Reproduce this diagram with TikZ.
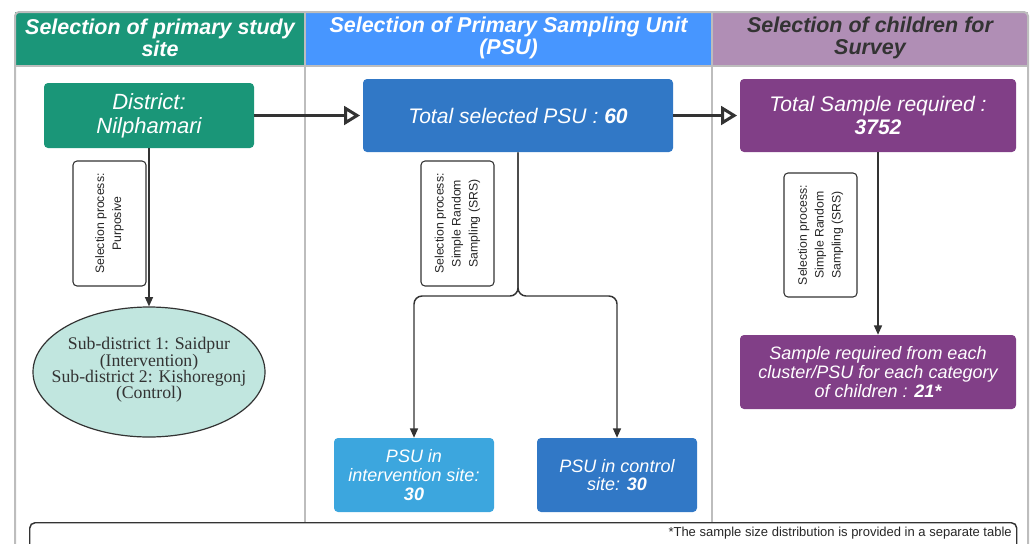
\documentclass[tikz,border=0pt]{standalone}
\usepackage{fontspec}
\setmainfont{Liberation Sans}
\newfontfamily\ellfont{Liberation Serif}
\usetikzlibrary{shapes.geometric,arrows.meta}
\definecolor{hgreen}{HTML}{1B9679}
\definecolor{hblue}{HTML}{4796FF}
\definecolor{hpurple}{HTML}{B08EB5}
\definecolor{boxteal}{HTML}{1A9678}
\definecolor{boxblue}{HTML}{3178C6}
\definecolor{boxlight}{HTML}{3CA6DE}
\definecolor{boxpurple}{HTML}{813F87}
\definecolor{ellfill}{HTML}{C1E6DF}
\definecolor{lanegray}{HTML}{BDBDBD}
\definecolor{ink}{HTML}{333333}
\newcommand\ellstyle{\ellfont\fontsize{13.3}{12.2}\selectfont\lineskiplimit-20pt\relax}
\tikzset{
  lane/.style={draw=lanegray, line width=1.5pt},
  htext/.style={align=center, font=\fontsize{16.1}{16.5}\selectfont\bfseries\itshape, text=white},
  bigbox/.style={rectangle, rounded corners=3pt, align=center, text=white, inner sep=2pt,
    font=\fontsize{15.8}{16.8}\selectfont\itshape},
  smallbox/.style={rectangle, rounded corners=3pt, align=center, text=white, inner sep=2pt,
    font=\fontsize{13.5}{14}\selectfont\itshape},
  labelbox/.style={rectangle, draw=ink, line width=0.8pt, rounded corners=3pt, fill=white,
    align=center, rotate=90, text=black!85, inner sep=1pt,
    font=\fontsize{9.2}{12.7}\selectfont},
  thick arrow/.style={draw=ink, line width=2.25pt, -{Triangle[open, length=12pt, width=14pt, line width=2.25pt]}},
  thin arrow/.style={draw=ink, line width=1.1pt, -{Triangle[length=7pt, width=6pt]}},
}
\begin{document}
\begin{tikzpicture}[x=0.75pt,y=-0.75pt]
\useasboundingbox (0,0) rectangle (1030,543);
\clip (0,0) rectangle (1030,543);
% header backgrounds
\fill[hgreen] (15,12) rectangle (305,66);
\fill[hblue] (305,12) rectangle (712,66);
\fill[hpurple] (712,12) rectangle (1028,66);
% swimlane lines
\draw[lane, rounded corners=3pt] (15,560) -- (15,12) -- (1028,12) -- (1028,560);
\draw[lane] (15,66) -- (1028,66);
\draw[lane] (305,12) -- (305,522);
\draw[lane] (712,12) -- (712,522);
% header texts
\node[htext] (h1) at (160,37.5) {Selection of primary study\\site};
\node[htext] (h2) at (508.5,37.5) {Selection of Primary Sampling Unit\\(PSU)};
\node[htext, text=ink] (h3) at (870,37.5) {Selection of children for\\Survey};
% main boxes
\node[bigbox, fill=boxteal, minimum width=210*0.75pt, minimum height=65*0.75pt,
  font=\fontsize{16.5}{18}\selectfont\itshape] (dist) at (149,115.5) {District:\\Nilphamari};
\node[bigbox, fill=boxblue, minimum width=310*0.75pt, minimum height=73*0.75pt] (psu) at (518,115.5) {Total selected PSU : \textbf{60}};
\node[bigbox, fill=boxpurple, minimum width=276*0.75pt, minimum height=73*0.75pt] (tot) at (878,115.5) {Total Sample required :\\\textbf{3752}};
% ellipse
\node[ellipse, draw=ink, line width=0.9pt, fill=ellfill, minimum width=232*0.75pt, minimum height=130*0.75pt,
  inner sep=0pt] (ell) at (149,372) {};
\node[align=center, inner sep=0pt, text=black!80, font=\ellstyle] (elltext) at (149,370)
  {Sub-district 1: Saidpur\\(Intervention)\\Sub-district 2: Kishoregonj\\(Control)};
% bottom boxes
\node[smallbox, fill=boxlight, minimum width=160*0.75pt, minimum height=74*0.75pt] (int) at (414,475) {PSU in\\intervention site:\\\textbf{30}};
\node[smallbox, fill=boxblue, minimum width=160*0.75pt, minimum height=74*0.75pt] (ctl) at (617,475) {PSU in control\\site: \textbf{30}};
\node[smallbox, fill=boxpurple, minimum width=276*0.75pt, minimum height=74*0.75pt] (samp) at (878,372) {Sample required from each\\cluster/PSU for each category\\of children : \textbf{21*}};
% label boxes
\node[labelbox, minimum width=125*0.75pt, minimum height=73*0.75pt] (lab1) at (109.5,223.5) {Selection process:\\Purposive};
\node[labelbox, minimum width=125*0.75pt, minimum height=73*0.75pt] (lab2) at (457.5,223.5) {Selection process:\\Simple Random\\Sampling (SRS)};
\node[labelbox, minimum width=124*0.75pt, minimum height=73*0.75pt] (lab3) at (820.5,235) {Selection process:\\Simple Random\\Sampling (SRS)};
% connectors
\draw[thick arrow, shorten >=2pt] (dist.east) -- (psu.west);
\draw[thick arrow, shorten >=2pt] (psu.east) -- (tot.west);
\draw[thin arrow] (dist.south) -- (ell.north);
\draw[thin arrow] (tot.south) -- (samp.north);
\coordinate (split) at (518,296);
\draw[thin arrow, rounded corners=6pt] (psu.south) -- (split) -| (int.north);
\draw[thin arrow, rounded corners=6pt] (psu.south) -- (split) -| (ctl.north);
% footnote
\node[rectangle, draw=ink, line width=1.1pt, rounded corners=4pt, minimum width=987*0.75pt, minimum height=40*0.75pt, anchor=north west] (note) at (29,522) {};
\node[anchor=base east, font=\fontsize{9.75}{11}\selectfont, text=black!85, inner sep=0pt] (notetext) at (1012,536) {*The sample size distribution is provided in a separate table};
\end{tikzpicture}
\end{document}
